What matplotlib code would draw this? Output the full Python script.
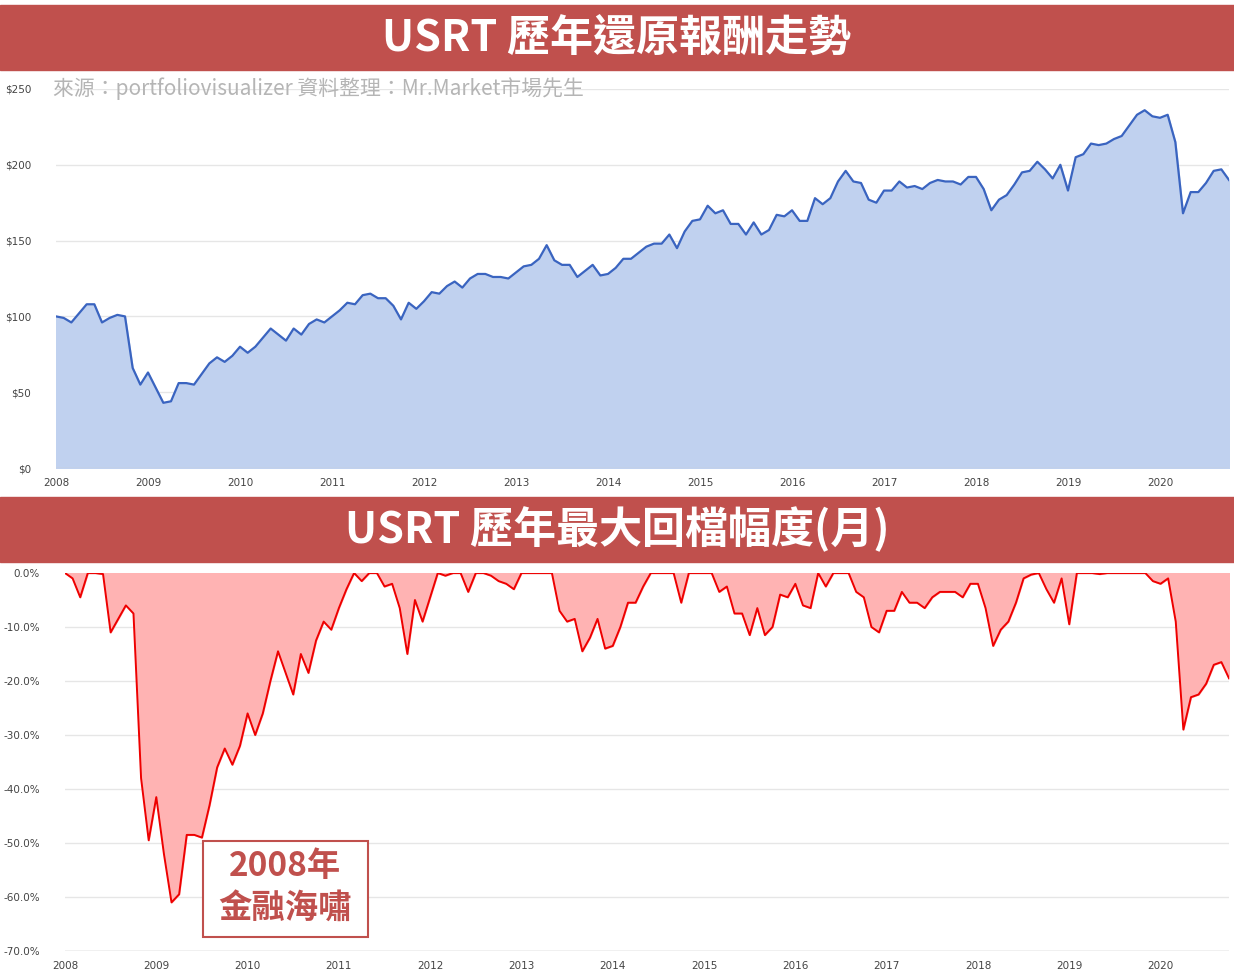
import matplotlib
matplotlib.use("Agg")
import matplotlib.pyplot as plt
from matplotlib.patches import Rectangle
import numpy as np

start_year = 2008
values = [100,99,96,102,108,108,96,99,101,100,66,55,
          63,53,43,44,56,56,55,62,69,73,70,74,
          80,76,80,86,92,88,84,92,88,95,98,96,
          100,104,109,108,114,115,112,112,107,98,109,105,
          110,116,115,120,123,119,125,128,128,126,126,125,
          129,133,134,138,147,137,134,134,126,130,134,127,
          128,132,138,138,142,146,148,148,154,145,156,163,
          164,173,168,170,161,161,154,162,154,157,167,166,
          170,163,163,178,174,178,189,196,189,188,177,175,
          183,183,189,185,186,184,188,190,189,189,187,192,
          192,184,170,177,180,187,195,196,202,197,191,200,
          183,205,207,214,213,214,217,219,226,233,236,232,
          231,233,215,168,182,182,188,196,197,190]
drawdown = [0,-1,-4.5,0,0,-0.2,-11,-8.5,-6,-7.5,-38,-49.5,
            -41.5,-52,-61,-59.5,-48.5,-48.5,-49,-43,-36,-32.5,-35.5,-32,
            -26,-30,-26,-20,-14.5,-18.5,-22.5,-15,-18.5,-12.5,-9,-10.5,
            -6.5,-3,0,-1.5,0,0,-2.5,-2,-6.5,-15,-5,-9,
            -4.5,0,-0.5,0,0,-3.5,0,0,-0.5,-1.5,-2,-3,
            0,0,0,0,0,-7,-9,-8.5,-14.5,-12,-8.5,-14,
            -13.5,-10,-5.5,-5.5,-2.5,0,0,0,0,-5.5,0,0,
            0,0,-3.5,-2.5,-7.5,-7.5,-11.5,-6.5,-11.5,-10,-4,-4.5,
            -2,-6,-6.5,0,-2.5,0,0,0,-3.5,-4.5,-10,-11,
            -7,-7,-3.5,-5.5,-5.5,-6.5,-4.5,-3.5,-3.5,-3.5,-4.5,-2,
            -2,-6.5,-13.5,-10.5,-9,-5.5,-1,-0.3,0,-3,-5.5,-1,
            -9.5,0,0,0,-0.2,0,0,0,0,0,0,-1.5,
            -2,-1,-9,-29,-23,-22.5,-20.5,-17,-16.5,-19.5]
year_ticks = list(range(2008, 2021))
price_ticks = [0, 50, 100, 150, 200, 250]
dd_ticks = [0, -10, -20, -30, -40, -50, -60, -70]

x = start_year + np.arange(len(values)) / 12.0
xd = start_year + np.arange(len(drawdown)) / 12.0

RED = "#c0504d"
CJK = "Noto Sans CJK TC"
W, H = 1234, 972
fig = plt.figure(figsize=(W/100, H/100), dpi=100)

def banner(y0, y1, text):
    fig.patches.append(Rectangle((0, 1-y1/H), 1, (y1-y0)/H, transform=fig.transFigure,
                                 color=RED, zorder=0))
    fig.text(0.5, 1-(y0+y1)/2/H, text, ha="center", va="center", color="white",
             fontsize=31, fontweight="bold", family=CJK)

banner(5, 70, "USRT 歷年還原報酬走勢")
banner(497, 562, "USRT 歷年最大回檔幅度(月)")

def style(ax, ticks, fmt, ypad):
    for s in ax.spines.values():
        s.set_visible(False)
    ax.set_yticks(ticks)
    ax.set_yticklabels([fmt(t) for t in ticks])
    ax.set_xticks(year_ticks)
    ax.set_xticklabels([str(t) for t in year_ticks])
    ax.tick_params(axis="both", length=0, labelsize=7.5, colors="#444444")
    ax.tick_params(axis="x", pad=7)
    ax.tick_params(axis="y", pad=ypad)
    ax.grid(axis="y", color="#e6e6e6", lw=1)
    ax.set_axisbelow(True)

ax1 = fig.add_axes([56/W, 1-468/H, (1229-56)/W, (468-89)/H])
ax1.fill_between(x, values, 0, color="#c0d1ef", zorder=2)
ax1.plot(x, values, color="#3a64c0", lw=1.6, zorder=3)
ax1.set_xlim(x[0], x[-1])
ax1.set_ylim(0, 250)
style(ax1, price_ticks, lambda t: f"${t}", 18)
ax1.axhline(0, color="#cccccc", lw=1)
ax1.text(-3/1173, 1.0, "來源：portfoliovisualizer 資料整理：Mr.Market市場先生",
         transform=ax1.transAxes, ha="left", va="center", fontsize=15,
         color="#b5b5b5", family=CJK, zorder=5)

ax2 = fig.add_axes([65/W, 1-951/H, (1229-65)/W, (951-573)/H])
ax2.fill_between(xd, drawdown, 0, color="#ffb3b3", zorder=2)
ax2.plot(xd, drawdown, color="#ee0000", lw=1.4, zorder=3)
ax2.set_xlim(xd[0], xd[-1])
ax2.set_ylim(-70, 0)
style(ax2, dd_ticks, lambda t: f"{t:.1f}%", 18)
ax2.axhline(-70, color="#cccccc", lw=1)

fig.patches.append(Rectangle((203/W, 1-937/H), 165/W, 96/H, transform=fig.transFigure,
                             facecolor="white", edgecolor=RED, lw=1.5, zorder=10))
fig.text(285/W, 1-866/H, "2008年", ha="center", va="center", color=RED,
         fontsize=24, fontweight="bold", family=CJK, zorder=11)
fig.text(285/W, 1-908/H, "金融海嘯", ha="center", va="center", color=RED,
         fontsize=24, fontweight="bold", family=CJK, zorder=11)

fig.savefig("out.png", dpi=100)
